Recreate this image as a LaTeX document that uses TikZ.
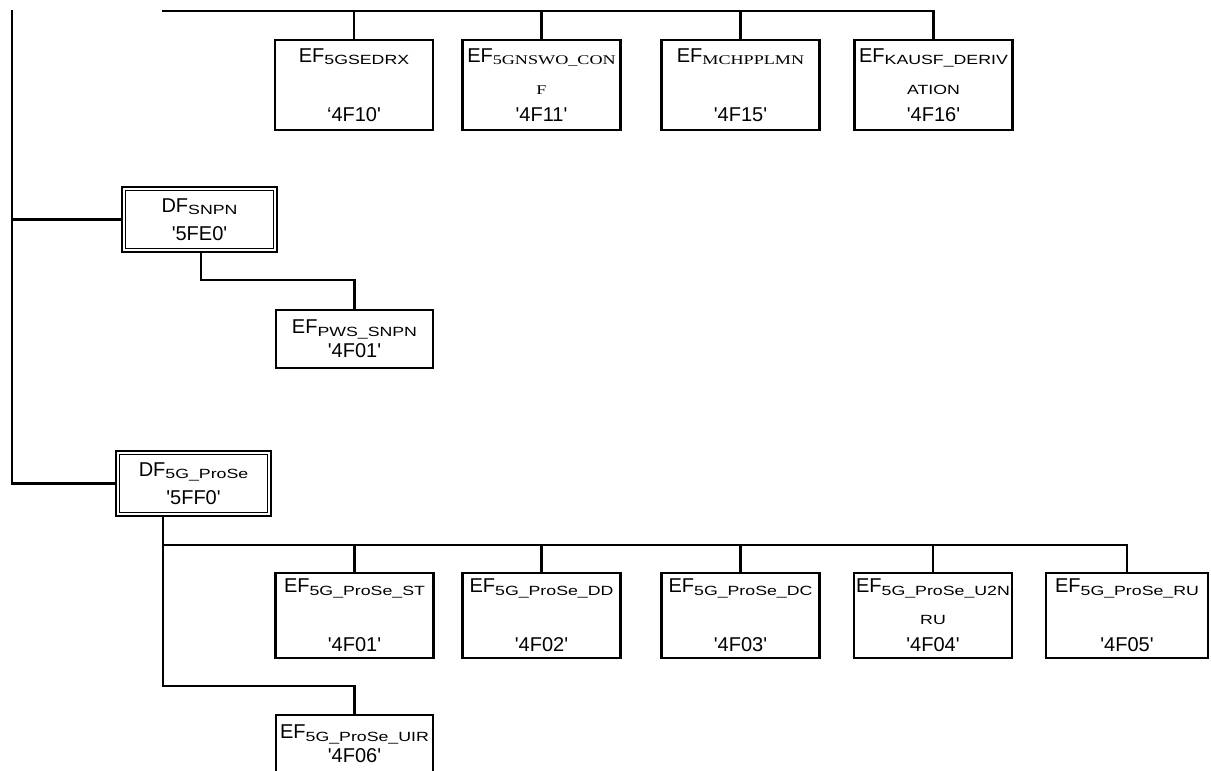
\documentclass[tikz,border=0pt]{standalone}
\usepackage{fontspec}
\setmainfont{Liberation Sans}[Ligatures=TeXOff]
\newfontfamily\timesf{Liberation Serif}[Ligatures=TeXOff]
\usepackage{graphicx}
\usepackage{tikz}
\usetikzlibrary{positioning}
\definecolor{ink}{HTML}{000000}
\newcommand{\subx}[1]{\raisebox{-1.8pt}{\scalebox{1.33}[1]{\fontsize{10}{10}\selectfont #1}}}
\newcommand{\subt}[1]{\raisebox{-1.8pt}{\scalebox{1.36}[1]{\fontsize{10}{10}\selectfont\timesf #1}}}
\tikzset{
  every node/.style={font=\fontsize{15}{22}\selectfont,text=ink},
  wire/.style={draw=ink,line width=1.7pt},
  efbox/.style={draw=ink,line width=1.7pt,align=center,inner sep=0pt,minimum width=118.5pt,minimum height=67.5pt},
  efrow/.style={efbox,minimum height=63.75pt},
  eflow/.style={efbox,minimum height=43.5pt,minimum width=117.75pt,font=\fontsize{15}{18}\selectfont},
  dfbox/.style={draw=ink,line width=2pt,align=center,inner sep=0pt,minimum width=116.25pt,minimum height=48.75pt,font=\fontsize{15}{21}\selectfont},
  dfinner/.style={draw=ink,line width=0.8pt}
}
\begin{document}
\begin{tikzpicture}[x=0.75pt,y=-0.75pt]
  \useasboundingbox (0,0) rectangle (1211,771);
  \coordinate (lefttop) at (12,10);
  \coordinate (topbus) at (162,11);
  \coordinate (snpnbend) at (201,280);
  \coordinate (prosebus) at (163,545);
  \coordinate (uirbend) at (163,686);

  \node[efbox] (ef10) at (354,85) {EF\subx{5GSEDRX}\\ \\ ‘4F10'};
  \node[efbox] (ef11) at (541.5,85) {EF\subt{5GNSWO\_CON}\\ \subt{F}\\ '4F11'};
  \node[efbox] (ef15) at (740.5,85) {EF\subt{MCHPPLMN}\\ \\ '4F15'};
  \node[efbox] (ef16) at (933.5,85) {EF\subx{KAUSF\_DERIV}\\ \subx{ATION}\\ '4F16'};

  \node[dfbox] (snpn) at (199.5,219.5) {DF\subx{SNPN}\\ '5FE0'};
  \node[eflow] (pws) at (354.5,339) {EF\subx{PWS\_SNPN}\\ '4F01'};

  \node[dfbox] (prose) at (193.5,483.5) {DF\subx{5G\_ProSe}\\ '5FF0'};
  \node[efrow] (st) at (354.5,615.5) {EF\subx{5G\_ProSe\_ST}\\ \\ '4F01'};
  \node[efrow] (dd) at (541.5,615.5) {EF\subx{5G\_ProSe\_DD}\\ \\ '4F02'};
  \node[efrow] (dc) at (740.5,615.5) {EF\subx{5G\_ProSe\_DC}\\ \\ '4F03'};
  \node[efrow] (u2n) at (933,615.5) {EF\subx{5G\_ProSe\_U2N}\\ \subx{RU}\\ '4F04'};
  \node[efrow,minimum width=121.5pt] (ru) at (1127,615.5) {EF\subx{5G\_ProSe\_RU}\\ \\ '4F05'};
  \node[eflow] (uir) at (354.5,744) {EF\subx{5G\_ProSe\_UIR}\\ '4F06'};

  \foreach \d in {snpn,prose}
    \draw[dfinner] ([shift={(5,5)}]\d.north west) rectangle ([shift={(-5,-5)}]\d.south east);

  \draw[wire] (lefttop) |- (prose.west);
  \draw[wire] (lefttop |- snpn.west) -- (snpn.west);
  \draw[wire] (topbus) -- (topbus -| ef16.north) -- (ef16.north);
  \foreach \n in {ef10,ef11,ef15}
    \draw[wire] (topbus -| \n.north) -- (\n.north);
  \draw[wire] (snpn.south -| snpnbend) -- (snpnbend) -| (pws.north);
  \draw[wire] (prose.south -| prosebus) -- (uirbend) -| (uir.north);
  \draw[wire] (prosebus) -- (prosebus -| ru.north) -- (ru.north);
  \foreach \n in {st,dd,dc,u2n}
    \draw[wire] (prosebus -| \n.north) -- (\n.north);
\end{tikzpicture}
\end{document}
